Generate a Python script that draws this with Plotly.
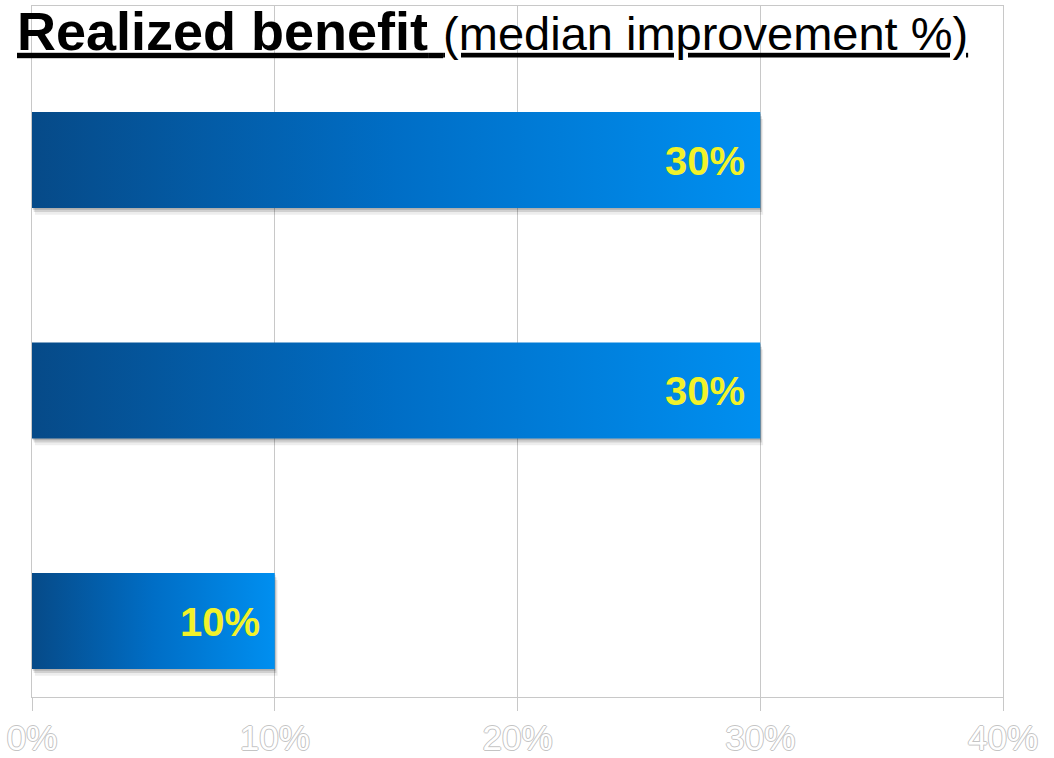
import plotly.graph_objects as go

# ---- data ----
categories = ["Benefit A", "Benefit B", "Benefit C"]
values = [30, 30, 10]               # median improvement, %
value_labels = ["30%", "30%", "10%"]
x_ticks = [0, 10, 20, 30, 40]
x_tick_labels = ["0%", "10%", "20%", "30%", "40%"]

# ---- style ----
HALF = 0.208          # half bar thickness in category units
GRID = "#c8c8c8"
GRADIENT = [[0.0, "#064a88"], [0.5, "#006ec6"], [1.0, "#008ff0"]]
FONT = "Liberation Sans, Arial, Helvetica, sans-serif"

fig = go.Figure()

for i, (cat, v) in enumerate(zip(categories, values)):
    # soft drop shadow layers
    for dy, dx, a in [(0.030, 0.12, 0.07), (0.018, 0.07, 0.12), (0.008, 0.03, 0.16)]:
        fig.add_trace(go.Scatter(
            x=[0 + dx, v + dx, v + dx, 0 + dx, 0 + dx],
            y=[i - HALF + dy, i - HALF + dy, i + HALF + dy, i + HALF + dy, i - HALF + dy],
            mode="lines", line=dict(width=0), fill="toself",
            fillcolor=f"rgba(0,0,0,{a})", hoverinfo="skip", showlegend=False,
        ))
    # gradient bar
    fig.add_trace(go.Scatter(
        x=[0, v, v, 0, 0],
        y=[i - HALF, i - HALF, i + HALF, i + HALF, i - HALF],
        mode="lines", line=dict(width=0), fill="toself",
        fillgradient=dict(type="horizontal", colorscale=GRADIENT),
        name=cat, showlegend=False,
        hovertemplate=f"{cat}: {v}%<extra></extra>",
    ))
    fig.add_annotation(
        x=v, y=i, text=f"<b>{value_labels[i]}</b>", showarrow=False,
        xanchor="right", yanchor="middle", xshift=-13, yshift=-1,
        font=dict(family=FONT, size=40, color="#f2f22a"),
    )

fig.update_layout(
    width=1054, height=758,
    margin=dict(l=32, r=51, t=6, b=61, autoexpand=False),
    plot_bgcolor="white", paper_bgcolor="white",
    showlegend=False,
    title=dict(
        text="<b>Realized benefit</b> <span style='font-size:47px'>(median improvement %)</span>",
        font=dict(family=FONT, size=54, color="black", lineposition="under"),
        xref="container", yref="container",
        x=17 / 1054, xanchor="left",
        y=1 - 12 / 758, yanchor="top",
        pad=dict(t=0, b=0, l=0, r=0),
        automargin=False,
    ),
    xaxis=dict(
        range=[0, 40], tickvals=x_ticks, ticktext=x_tick_labels,
        showgrid=True, gridcolor=GRID, gridwidth=1,
        showline=True, linecolor=GRID, linewidth=1, mirror=True,
        ticks="outside", ticklen=13, tickcolor=GRID,
        ticklabelstandoff=-3,
        tickfont=dict(family=FONT, size=35, color="white",
                      shadow="1px 0 0 #c4c4c4, -1px 0 0 #c4c4c4, 0 1px 0 #c4c4c4, 0 -1px 0 #c4c4c4"),
        zeroline=False, fixedrange=True, automargin=False,
    ),
    yaxis=dict(
        range=[2.330, -0.668], showticklabels=False, showgrid=False,
        zeroline=False, showline=True, linecolor=GRID, mirror=True,
        ticks="", fixedrange=True, automargin=False,
    ),
)

fig.write_html("out.html")
